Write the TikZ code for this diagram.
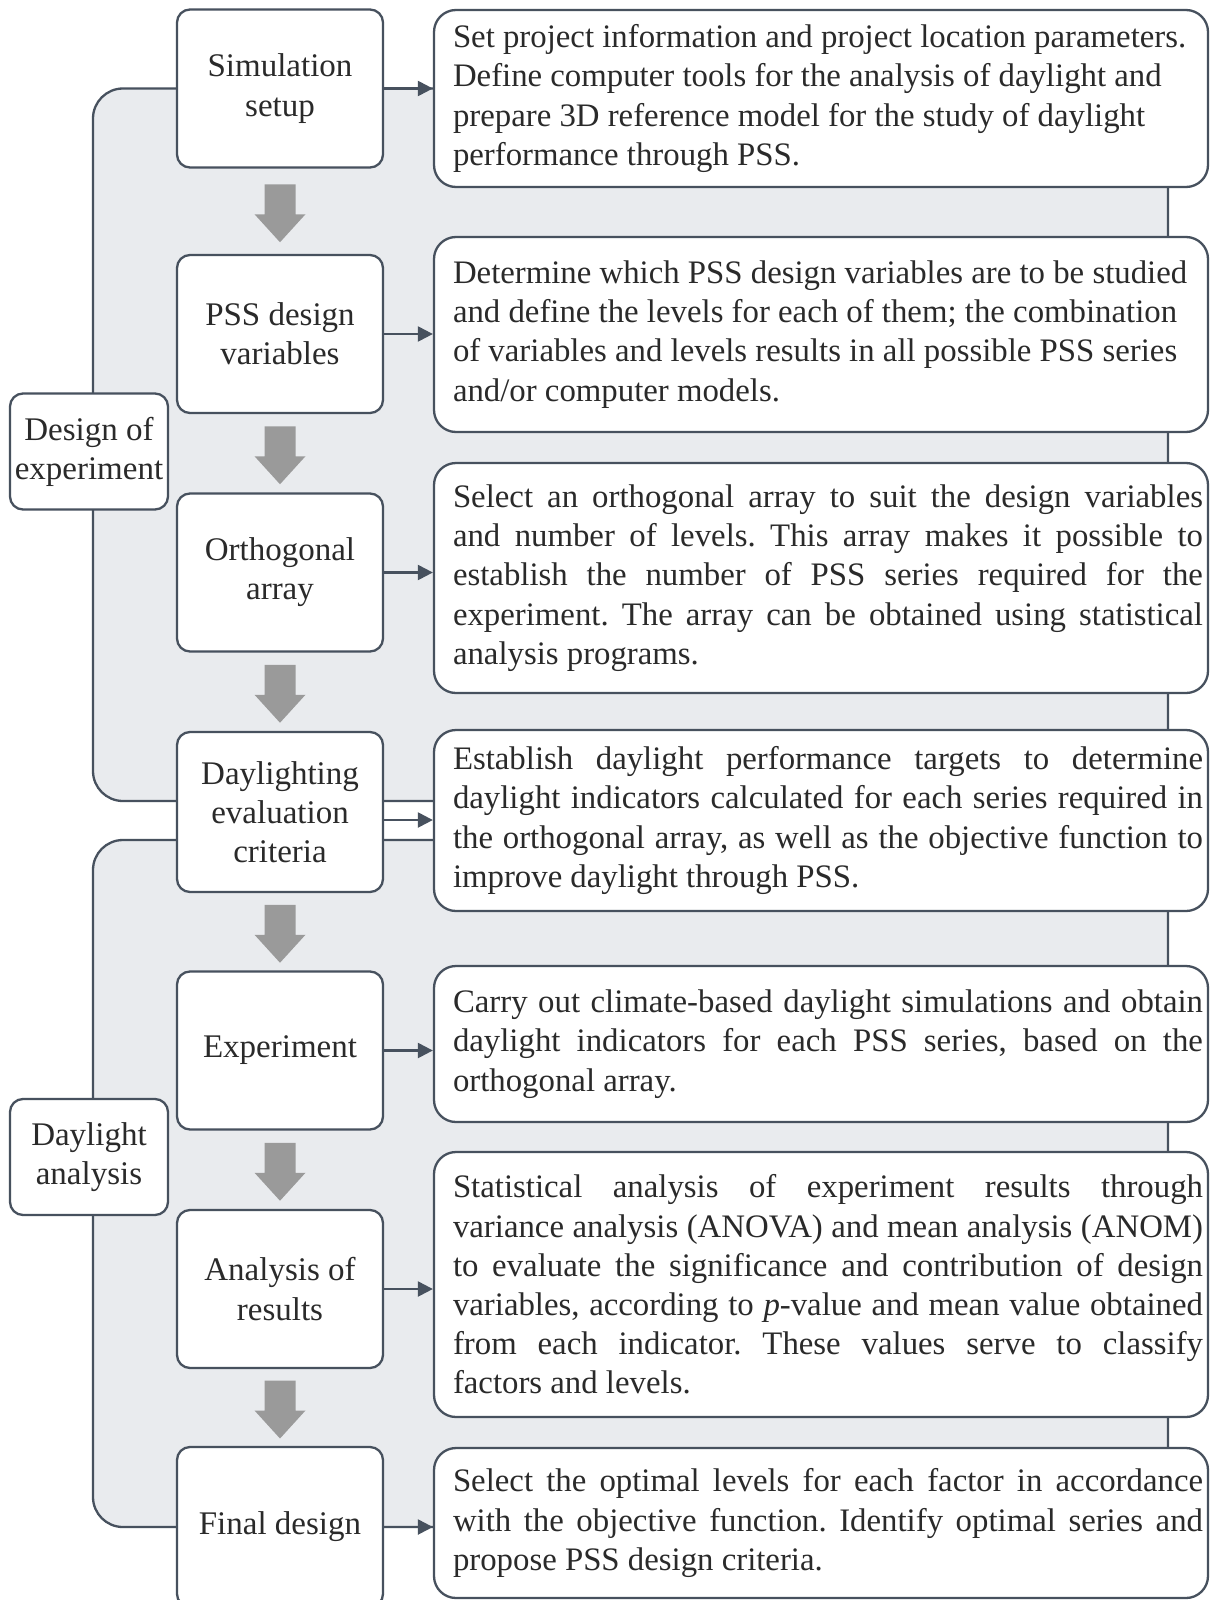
\documentclass[tikz,border=0pt]{standalone}
\usepackage{fontspec}
\setmainfont{Liberation Serif}
\usetikzlibrary{arrows.meta,calc}
\definecolor{edge}{HTML}{47515E}
\definecolor{regionfill}{HTML}{E9EBEE}
\definecolor{arrowgray}{HTML}{9A9A9A}
\definecolor{textcol}{HTML}{2A2A2A}
\tikzset{
  blockarrow/.pic={\fill[arrowgray] (-15.5,-29) -- (15.5,-29) -- (15.5,1) -- (25.5,1) -- (0,29) -- (-25.5,1) -- (-15.5,1) -- cycle;}
}
\newcommand{\desctext}[1]{\hspace*{14pt}\parbox[c]{750pt}{\frenchspacing\hyphenpenalty=10000\exhyphenpenalty=10000\parindent=0pt\relax #1}}
\begin{document}
\begin{tikzpicture}[x=1pt,y=-1pt,
  every node/.style={font=\fontsize{33}{39.2}\selectfont, text=textcol},
  region/.style={fill=regionfill, draw=edge, line width=2.3pt, rounded corners=30pt},
  stepbox/.style={draw=edge, fill=white, line width=2.3pt, rounded corners=13pt, minimum width=206pt, minimum height=158pt, align=center, inner sep=0pt},
  labelbox/.style={draw=edge, fill=white, line width=2.3pt, rounded corners=13pt, minimum width=158pt, minimum height=116pt, align=center, inner sep=0pt},
  descbox/.style={draw=edge, fill=white, line width=2.3pt, rounded corners=22pt, minimum width=774pt, inner xsep=5pt, inner ysep=0pt, font=\fontsize{32.8}{39.2}\selectfont},
  harrow/.style={draw=edge, line width=2.3pt, -{Triangle[length=15pt,width=15pt]}}
]
\useasboundingbox (0,0) rectangle (1210,1600);
\clip (0,0) rectangle (1210,1600);
\fill[white] (0,0) rectangle (1210,1600);

% background regions
\path[region] (93,88.5) rectangle (1168,801);
\path[region] (93,840) rectangle (1168,1527);

% step boxes
\node[stepbox] (b1) at (280,88.5) {Simulation\\setup};
\node[stepbox] (b2) at (280,334) {PSS design\\variables};
\node[stepbox] (b3) at (280,572.5) {Orthogonal\\array};
\node[stepbox, minimum height=160pt] (b4) at (280,812) {Daylighting\\evaluation\\criteria};
\node[stepbox] (b5) at (280,1050.5) {Experiment};
\node[stepbox] (b6) at (280,1289) {Analysis of\\results};
\node[stepbox, minimum height=160pt] (b7) at (280,1527) {Final design};

% group labels
\node[labelbox] (l1) at (89,451.5) {Design of\\experiment};
\node[labelbox] (l2) at (89,1157) {Daylight\\analysis};

% description boxes
\node[descbox, minimum height=177pt] (t1) at (821,98.5) {\desctext{\mbox{Set project information and project location parameters.}\\\mbox{Define computer tools for the analysis of daylight and}\\\mbox{prepare 3D reference model for the study of daylight}\\performance through PSS.}};
\node[descbox, minimum height=195pt] (t2) at (821,334.5) {\desctext{\mbox{Determine which PSS design variables are to be studied}\\\mbox{and define the levels for each of them; the combination}\\\mbox{of variables and levels results in all possible PSS series}\\and/or computer models.}};
\node[descbox, minimum height=230pt] (t3) at (821,578) {\desctext{Select an orthogonal array to suit the design variables\linebreak and number of levels. This array makes it possible to\linebreak establish the number of PSS series required for the\linebreak experiment. The array can be obtained using statistical\linebreak analysis programs.}};
\node[descbox, minimum height=181pt] (t4) at (821,820.5) {\desctext{Establish daylight performance targets to determine\linebreak daylight indicators calculated for each series required in\linebreak the orthogonal array, as well as the objective function to\linebreak improve daylight through PSS.}};
\node[descbox, minimum height=156pt] (t5) at (821,1044) {\desctext{Carry out climate-based daylight simulations and obtain\linebreak daylight indicators for each PSS series, based on the\linebreak orthogonal array.}};
\node[descbox, minimum height=265pt] (t6) at (821,1284.5) {\desctext{Statistical analysis of experiment results through\linebreak variance analysis (ANOVA) and mean analysis (ANOM)\linebreak to evaluate the significance and contribution of design\linebreak variables, according to \textit{p}-value and mean value obtained\linebreak from each indicator. These values serve to classify\linebreak factors and levels.}};
\node[descbox, minimum height=150pt] (t7) at (821,1523) {\desctext{Select the optimal levels for each factor in accordance\linebreak with the objective function. Identify optimal series and\linebreak propose PSS design criteria.}};

% horizontal connectors
\draw[harrow] (b1.east) -- (b1.east -| t1.west);
\draw[harrow] (b2.east) -- (b2.east -| t2.west);
\draw[harrow] (b3.east) -- (b3.east -| t3.west);
\draw[harrow] ([yshift=-8pt]b4.east) -- ([yshift=-8pt]b4.east -| t4.west);
\draw[harrow] (b5.east) -- (b5.east -| t5.west);
\draw[harrow] (b6.east) -- (b6.east -| t6.west);
\draw[harrow] (b7.east) -- (b7.east -| t7.west);

% block arrows between steps
\pic at ($(b1.south)!0.5!(b2.north)+(0,2)$) {blockarrow};
\pic at ($(b2.south)!0.5!(b3.north)+(0,2)$) {blockarrow};
\pic at ($(b3.south)!0.5!(b4.north)+(0,2)$) {blockarrow};
\pic at ($(b4.south)!0.5!(b5.north)+(0,2)$) {blockarrow};
\pic at ($(b5.south)!0.5!(b6.north)+(0,2)$) {blockarrow};
\pic at ($(b6.south)!0.5!(b7.north)+(0,2)$) {blockarrow};
\end{tikzpicture}
\end{document}
